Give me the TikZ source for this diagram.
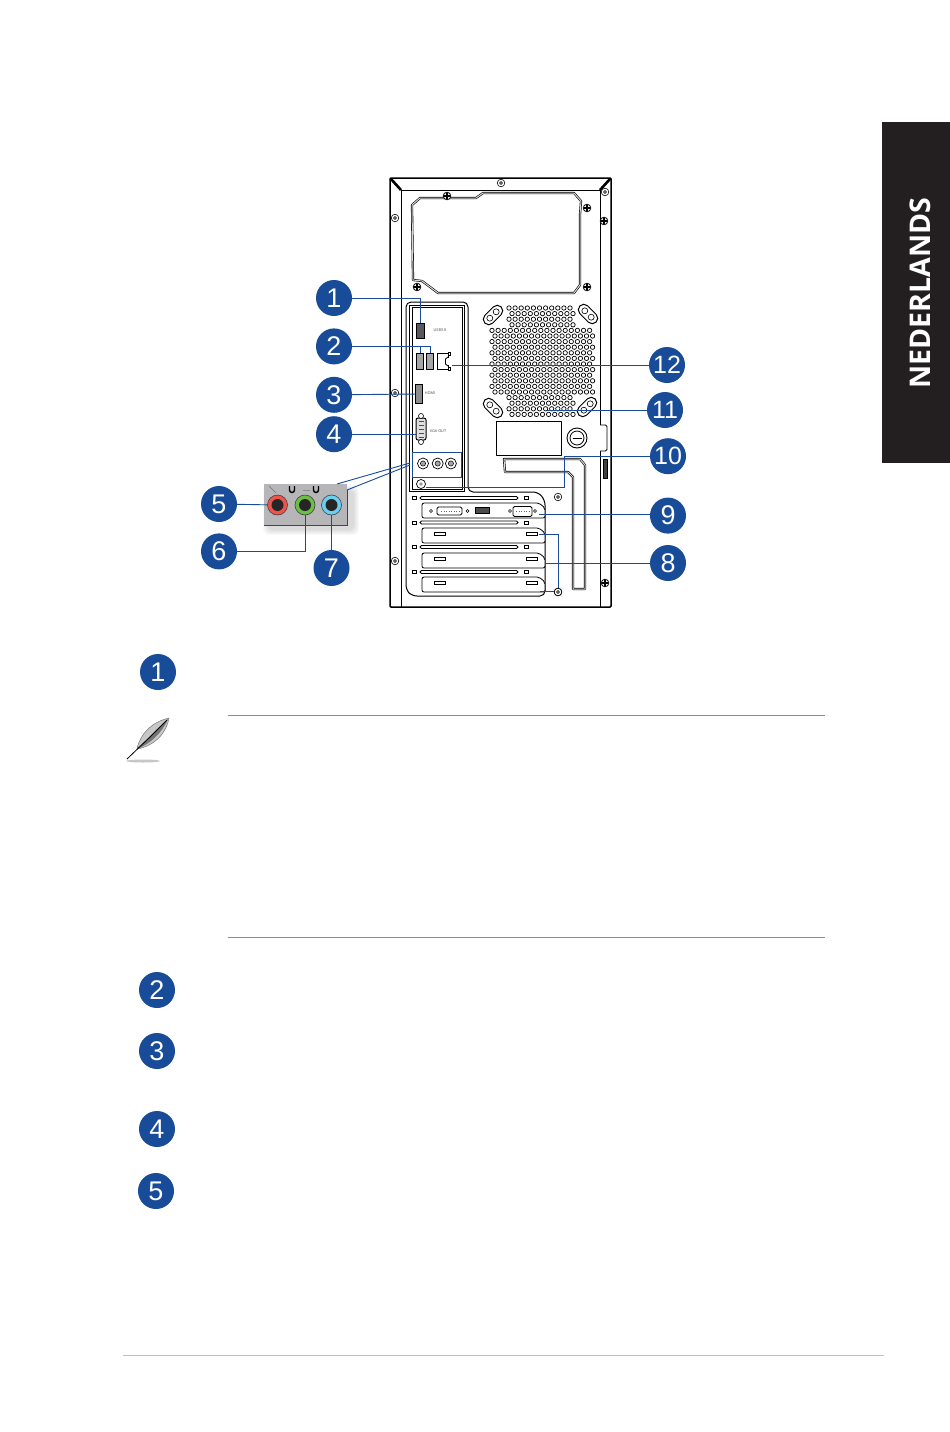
\documentclass[tikz,border=0pt]{standalone}
\usepackage{fontspec}
\setmainfont{Open Sans}
\newfontfamily\digitfont{Liberation Sans}
\usepackage{xcolor}
\usepackage{tikz}
\usetikzlibrary{arrows.meta, positioning, calc}
\definecolor{calloutblue}{RGB}{24, 75, 152}
\definecolor{tabblack}{RGB}{35, 31, 32}
\definecolor{insetgrey}{RGB}{182, 182, 184}
\definecolor{jackred}{RGB}{238, 84, 76}
\definecolor{jackgreen}{RGB}{108, 190, 69}
\definecolor{jackblue}{RGB}{109, 207, 240}
\tikzset{
    numdot/.style={circle, fill=calloutblue, text=white, minimum size=36pt, inner sep=0pt, font=\digitfont\fontsize{27}{27}\selectfont},
    leader/.style={draw=calloutblue, line width=0.9pt},
    caseline/.style={draw=black, line width=0.8pt},
    portdark/.style={rectangle, draw=black, fill=black!55, line width=0.8pt, inner sep=0pt},
    portlight/.style={rectangle, draw=black, fill=white, line width=0.8pt, inner sep=0pt},
    audiojack/.style={circle, draw=black, fill=white, line width=0.7pt, minimum size=11pt, inner sep=0pt},
    insetjack/.style={circle, draw=black!75, fill=#1, line width=0.6pt, minimum size=20pt, inner sep=0pt},
    tinylabel/.style={font=\fontsize{3.8}{4}\selectfont, text=black!75, inner sep=0pt},
    slotcard/.style={caseline, fill=white, rounded corners=2pt},
    pagerule/.style={draw=black!45, line width=0.7pt}
}
\begin{document}
\begin{tikzpicture}[x=1pt, y=-1pt]
    \useasboundingbox (0,0) rectangle (950,1432);
    \fill [white] (0,0) rectangle (950,1432);

    \fill [tabblack] (882,122) rectangle (950,463);
    \node [rotate=90, text=white, font=\fontsize{28.5}{29}\selectfont\bfseries, inner sep=0pt] (tabtext) at (920,293) {NEDERLANDS};

    \draw [line width=1.5pt, rounded corners=1pt] (390,178) rectangle (611,607);
    \draw [caseline] (401,190) -- (401,607);
    \draw [caseline] (600,190) -- (600,607);
    \draw [caseline] (401,190) -- (600,190);
    \draw [line width=2.6pt] (391,179) -- (401,190);
    \draw [line width=2.6pt] (610,179) -- (600,190);

    \draw [black, line width=2.2pt, line join=round] (412,205) -- (420,198) -- (476,198) -- (483,193) -- (574,193) -- (581,201) -- (580,215) -- (580,285) -- (574,293) -- (438,293) -- (422,281) -- (413,280) -- cycle;
    \draw [black!15, line width=1pt, line join=round] (412,205) -- (420,198) -- (476,198) -- (483,193) -- (574,193) -- (581,201) -- (580,215) -- (580,285) -- (574,293) -- (438,293) -- (422,281) -- (413,280) -- cycle;

    \foreach \rw in {0,...,19}{
        \pgfmathtruncatemacro{\wide}{(\rw>=4 && \rw<=15) ? 1 : 0}
        \pgfmathsetmacro{\rowy}{308+\rw*5.6}
        \pgfmathsetmacro{\shft}{mod(\rw,2)*3}
        \ifnum\wide=1
            \foreach \cl in {0,...,16}{
                \draw [line width=0.7pt] ({492+\cl*6.1+\shft},\rowy) circle (2.2);
            }
        \else
            \foreach \cl in {0,...,10}{
                \draw [line width=0.7pt] ({509+\cl*6.1+\shft},\rowy) circle (2.2);
            }
        \fi
    }
    \foreach \ox/\oy/\oa in {493/315/45, 588/314/-45, 493/408/-45, 587/407/45}{
        \begin{scope}[shift={(\ox,\oy)}, rotate=\oa]
            \draw [caseline, fill=white, line width=1pt] (-6,-5.5) -- (6,-5.5) arc (-90:90:5.5) -- (-6,5.5) arc (90:270:5.5) -- cycle;
            \draw [line width=0.6pt, fill=white] (-4.5,0) circle (3);
            \draw [line width=0.6pt, fill=white] (4.5,0) circle (3);
        \end{scope}
    }

    \foreach \sx/\sy in {395/218, 501/183, 605/192, 395/393, 395/561, 558/497, 558/592}{
        \draw [line width=0.6pt, fill=white] (\sx,\sy) circle (3.8);
        \draw [line width=0.5pt, fill=black!25] (\sx,\sy) circle (1.5);
    }
    \foreach \sx/\sy in {447/196, 587/208, 587/287, 417/287, 604/221, 605/583}{
        \draw [line width=0.8pt, fill=white] (\sx,\sy) circle (3.8);
        \draw [line width=1.2pt] (\sx-3,\sy) -- (\sx+3,\sy);
        \draw [line width=1.2pt] (\sx,\sy-3) -- (\sx,\sy+3);
    }

    \draw [line width=1pt, rounded corners=5pt, fill=white] (406,492) -- (406,302) -- (468,302) -- (468,492) -- (538,492) -- (545,500) -- (545,596) -- (412,596) -- (406,590) -- cycle;
    \draw [caseline] (409,491) -- (409,305) -- (464,305) -- (464,491) -- cycle;
    \draw [caseline] (412,489) -- (412,307) -- (462,307) -- (462,489) -- cycle;

    \node [portdark, fill=black!65, minimum width=8pt, minimum height=15pt] (usbthree) at (420,330.5) {};
    \node [portdark, fill=black!35, minimum width=7.5pt, minimum height=16pt] (usbleft) at (420,361) {};
    \node [portdark, fill=black!35, minimum width=7.5pt, minimum height=16pt] (usbright) at (430,361) {};
    \node [portlight, minimum width=11pt, minimum height=16pt] (lanport) at (442.5,361) {};
    \draw [white, line width=1.2pt] (448,358) -- (448,365);
    \draw [line width=0.8pt] (448,357) -- (445.5,359) -- (445.5,364) -- (448,366);
    \node [portlight, minimum width=2pt, minimum height=3pt] (lanledup) at (449,354) {};
    \node [portlight, minimum width=2pt, minimum height=3pt] (lanleddown) at (449,369) {};
    \coordinate (lanend) at (452,365);
    \node [portdark, fill=black!45, line width=1.1pt, minimum width=7pt, minimum height=19pt] (hdmiport) at (419,394) {};
    \node [portlight, fill=black!12, rounded corners=2pt, line width=1pt, minimum width=10pt, minimum height=22pt] (vgaport) at (421,429) {};
    \draw [line width=0.6pt, fill=white] (421,416) circle (2.5);
    \draw [line width=0.6pt, fill=white] (421,442) circle (2.5);
    \foreach \dy in {421,425,...,437}{
        \draw [line width=0.5pt, black!70] (418.5,\dy) -- (423.5,\dy);
    }
    \node [tinylabel] (usblabel) at (440,330) {USB3.0};
    \node [tinylabel] (hdmilabel) at (430,393) {HDMI};
    \node [tinylabel] (vgalabel) at (438,431) {VGA OUT};

    \node [audiojack] (audioa) at (423,463.5) {};
    \node [audiojack, right=3pt of audioa] (audiob) {};
    \node [audiojack, right=1.5pt of audiob] (audioc) {};
    \foreach \jk in {audioa, audiob, audioc}{
        \fill [black!35] (\jk) circle (2.6);
        \draw [line width=0.5pt] (\jk) circle (2.6);
    }
    \node [audiojack, minimum size=9pt] (groundjack) at (421,484) {};
    \fill [black!40] (groundjack) circle (1.8);
    \node [rectangle, leader, minimum width=49pt, minimum height=25pt, inner sep=0pt] (audiobox) at (436.5,464.5) {};

    \foreach \sly in {498,522.5,547,572}{
        \draw [caseline, fill=white, rounded corners=1.5pt] (420,\sly-1.5) rectangle (518,\sly+1.5);
        \draw [caseline, fill=white] (412.5,\sly-1.5) rectangle (416.5,\sly+1.5);
        \draw [caseline, fill=white] (524.5,\sly-1.5) rectangle (528.5,\sly+1.5);
    }
    \foreach \cy in {503,528,553,577}{
        \draw [slotcard] (422,\cy) -- (539,\cy) -- (545,\cy+5) -- (545,\cy+15) -- (422,\cy+15) -- cycle;
    }
    \foreach \cy in {534,558.5,583}{
        \draw [caseline, fill=white] (434.5,\cy-1.5) rectangle (445.5,\cy+1.5);
        \draw [caseline, fill=white] (526,\cy-1.5) rectangle (537,\cy+1.5);
    }
    \node [portlight, rounded corners=1.5pt, minimum width=25pt, minimum height=8pt] (dviport) at (449.5,511) {};
    \draw [line width=0.5pt, black!60, dotted] (441,511) -- (459,511);
    \node [portdark, fill=black!70, minimum width=14pt, minimum height=6pt] (cardhdmi) at (482.5,510.5) {};
    \node [portlight, rounded corners=1.5pt, minimum width=19pt, minimum height=10pt] (cardvga) at (522.5,511.5) {};
    \draw [line width=0.5pt, black!60, dotted] (516,511.5) -- (529,511.5);
    \foreach \sx in {431,467.5,510,535}{
        \draw [line width=0.6pt, fill=white] (\sx,511) circle (1.5);
    }

    \draw [line width=1pt, fill=white, line join=round] (496,421) rectangle (561,455);
    \draw [line width=0.9pt, fill=white] (577,438) circle (10);
    \draw [line width=0.8pt, fill=white] (577,438) circle (7);
    \draw [line width=0.8pt] (572.5,438) -- (581.5,438);
    \draw [black, line width=2.2pt, line join=round] (504,459) -- (580,459) -- (585,465) -- (585,589) -- (573,589) -- (573,477) -- (568,472) -- (505,472) -- cycle;
    \draw [black!15, line width=1pt, line join=round] (504,459) -- (580,459) -- (585,465) -- (585,589) -- (573,589) -- (573,477) -- (568,472) -- (505,472) -- cycle;
    \draw [line width=0.9pt, fill=white, rounded corners=1.5pt] (600,425) -- (607,425) -- (607,451) -- (600,451);
    \draw [line width=0.7pt, fill=black!75] (603,459) rectangle (607,478);

    \foreach \grow in {0,2,...,10}{
        \fill [black, opacity=0.022, rounded corners=6pt] (268-\grow/2,490-\grow/2) rectangle (354+\grow/2,530+\grow/2);
    }
    \fill [insetgrey] (264,484) rectangle (347,525);
    \draw [leader] (347,490) -- (347,525) -- (264,525);
    \draw [leader] (337,484) -- (410,463);
    \draw [leader] (347,490) -- (410,465);
    \node [insetjack=jackred] (jacka) at (277.5,505) {};
    \node [insetjack=jackgreen] (jackb) at (305,505) {};
    \node [insetjack=jackblue] (jackc) at (331.5,505) {};
    \foreach \jk in {jacka, jackb, jackc}{
        \fill [black!85] (\jk) circle (6);
    }
    \foreach \ux in {292,316}{
        \draw [line width=1.4pt] (\ux-2.5,486) -- (\ux-2.5,490) arc (180:0:2.5) -- (\ux+2.5,486);
    }
    \draw [black!55, line width=0.5pt] (269,486) -- (276,493);
    \draw [black!45, line width=0.8pt] (303,490) -- (310,490);

    \node [numdot] (numa) at (334,298) {1};
    \node [numdot, below=12pt of numa] (numb) {2};
    \node [numdot, below=12pt of numb] (numc) {3};
    \node [numdot, below=3pt of numc] (numd) {4};
    \node [numdot] (nume) at (219,504) {5};
    \node [numdot, below=11pt of nume] (numf) {6};
    \node [numdot] (numg) at (331.5,568) {7};
    \node [numdot] (numh) at (668,563) {8};
    \node [numdot, above=11pt of numh] (numi) {9};
    \node [numdot, above=23pt of numi, font=\digitfont\fontsize{25}{25}\selectfont] (numj) {10};
    \node [numdot, font=\digitfont\fontsize{25}{25}\selectfont] (numk) at (665,410) {11};
    \node [numdot, font=\digitfont\fontsize{25}{25}\selectfont] (numl) at (667,365) {12};

    \coordinate (fanend) at (547,410);
    \coordinate (cardnine) at (539,514.5);
    \coordinate (cardeight) at (546,563);
    \coordinate (bracktop) at (539,534);
    \coordinate (brackbot) at (540,591);
    \coordinate (groundend) at (426,487);
    \coordinate (bracklead) at (420,345.5);

    \draw [leader] (numa) -| (usbthree);
    \draw [leader] (numb) -| (usbright);
    \draw [leader] (bracklead) -- (usbleft);
    \draw [leader] (numc) -- (hdmiport);
    \draw [leader] (numd) -- (numd -| vgaport.west);
    \draw [leader] (nume) -- (jacka);
    \draw [leader] (numf) -| (jackb);
    \draw [leader] (numg) -- (jackc);
    \draw [leader] (numh) -- (cardeight);
    \draw [leader] (numi.west |- cardnine) -- (cardnine);
    \draw [leader] (numj) -| (564,487) -- (groundend);
    \draw [leader] (numk) -- (fanend);
    \draw [leader] (numl) -- (lanend);
    \draw [leader] (bracktop) -- (558,534) -- (558,591) -- (brackbot);

    \draw [line width=0.7pt, fill=white] (558,592) circle (3.8);
    \draw [line width=0.5pt, fill=black!25] (558,592) circle (1.5);

    \node [numdot] (lista) at (158,672) {1};
    \node [numdot] (listb) at (157,990) {2};
    \node [numdot] (listc) at (157,1051) {3};
    \node [numdot] (listd) at (157,1129) {4};
    \node [numdot] (liste) at (156,1191) {5};

    \fill [black!22] (143,761) ellipse (17 and 1.5);
    \fill [black!22, draw=black!60, line width=0.4pt] (137,748) .. controls (141,733) and (152,722) .. (169,718) .. controls (167,732) and (155,746) .. (137,749) -- cycle;
    \fill [black!55] (137,748) .. controls (146,741) and (158,728) .. (168,719) .. controls (162,733) and (150,744) .. (137,749) -- cycle;
    \draw [line width=0.8pt] (127,759) -- (150,737) -- (167,720);

    \draw [pagerule] (228,715) -- (825,715);
    \draw [pagerule] (228,937) -- (825,937);
    \draw [pagerule, black!25] (123,1355) -- (884,1355);
\end{tikzpicture}
\end{document}
